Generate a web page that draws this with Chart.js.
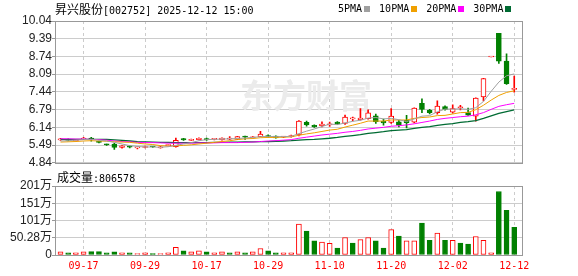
<!DOCTYPE html>
<html>
<head>
<meta charset="utf-8">
<script src="https://cdn.jsdelivr.net/npm/chart.js@4.4.1/dist/chart.umd.min.js"></script>
<style>
  body { margin: 0; background: #fff; width: 578px; height: 276px; overflow: hidden; position: relative; }
  canvas { position: absolute; left: 0; }
  #price { top: 0; }
  #vol { top: 170px; }
  .txt { position: absolute; font-family: "DejaVu Sans Mono", monospace; font-size: 10px; line-height: 14px; color: #000; white-space: nowrap; }
  .cjk { font-family: "Noto Sans CJK SC", sans-serif; font-size: 12px; }
  .leg i { display: inline-block; width: 6px; height: 6px; margin: 0 9px 1px 2px; vertical-align: middle; }
</style>
</head>
<body>
<canvas id="price" width="578" height="170"></canvas>
<canvas id="vol" width="578" height="106"></canvas>
<div class="txt" style="left:55px;top:2px"><span class="cjk">昇兴股份</span>[002752] 2025-12-12 15:00</div>
<div class="txt leg" style="left:338px;top:2px">5PMA<i style="background:#a0a0a0"></i>10PMA<i style="background:#f0a000"></i>20PMA<i style="background:#ff00ff"></i>30PMA<i style="background:#006b33"></i></div>
<div class="txt" style="left:57px;top:170px"><span class="cjk">成交量</span>:806578</div>
<script>
// trading days shown
const dates = ['09-12','09-15','09-16','09-17','09-18','09-19','09-22','09-23','09-24','09-25',
  '09-26','09-29','09-30','10-09','10-10','10-13','10-14','10-15','10-16','10-17',
  '10-20','10-21','10-22','10-23','10-24','10-27','10-28','10-29','10-30','10-31',
  '11-03','11-04','11-05','11-06','11-07','11-10','11-11','11-12','11-13','11-14',
  '11-17','11-18','11-19','11-20','11-21','11-24','11-25','11-26','11-27','11-28',
  '12-01','12-02','12-03','12-04','12-05','12-08','12-09','12-10','12-11','12-12'];
const tickDates = ['09-17','09-29','10-17','10-29','11-10','11-20','12-02','12-12'];

const openP = [5.68,5.70,5.65,5.71,5.75,5.63,5.52,5.53,5.40,5.45,
  5.39,5.40,5.43,5.39,5.47,5.43,5.73,5.66,5.69,5.73,
  5.70,5.68,5.71,5.70,5.80,5.75,5.80,5.83,5.82,5.78,
  5.80,5.86,6.32,6.21,6.20,6.23,6.33,6.28,6.45,6.42,
  6.46,6.56,6.36,6.32,6.34,6.40,6.33,7.02,6.76,6.68,
  6.90,6.70,6.86,6.68,6.55,7.26,8.72,9.59,8.57,7.53];
const highP = [5.74,5.72,5.70,5.77,5.77,5.64,5.53,5.55,5.47,5.46,
  5.43,5.45,5.44,5.44,5.50,5.75,5.74,5.71,5.76,5.75,
  5.73,5.76,5.80,5.81,5.82,5.80,5.99,5.87,5.83,5.80,
  5.86,6.39,6.37,6.23,6.34,6.33,6.35,6.59,6.52,6.83,
  6.78,6.63,6.44,6.83,6.40,6.58,6.86,7.19,6.80,7.11,
  6.93,6.97,6.95,6.85,7.22,7.94,8.72,9.59,8.84,8.02];
const lowP = [5.66,5.64,5.63,5.69,5.63,5.57,5.48,5.33,5.38,5.39,
  5.35,5.39,5.40,5.38,5.46,5.41,5.66,5.65,5.68,5.66,
  5.68,5.67,5.69,5.69,5.70,5.74,5.79,5.78,5.74,5.76,
  5.78,5.83,6.18,6.14,6.16,6.17,6.25,6.25,6.38,6.40,
  6.44,6.28,6.22,6.28,6.16,6.12,6.30,6.68,6.63,6.62,
  6.77,6.66,6.78,6.58,6.37,7.11,8.72,8.48,7.71,7.43];
const closeP = [5.72,5.66,5.67,5.74,5.70,5.59,5.50,5.40,5.46,5.41,
  5.42,5.41,5.42,5.40,5.49,5.66,5.68,5.69,5.74,5.68,
  5.71,5.75,5.72,5.80,5.78,5.79,5.89,5.80,5.75,5.79,
  5.84,6.37,6.23,6.16,6.26,6.27,6.27,6.52,6.46,6.48,
  6.67,6.35,6.30,6.55,6.22,6.31,6.85,6.80,6.68,6.92,
  6.80,6.83,6.87,6.59,7.21,7.93,8.72,8.57,7.74,7.55];

const ma5 = [5.64,5.65,5.67,5.69,5.70,5.67,5.64,5.59,5.53,5.47,
  5.44,5.42,5.42,5.41,5.43,5.48,5.53,5.58,5.65,5.69,
  5.70,5.71,5.72,5.73,5.75,5.77,5.80,5.81,5.80,5.80,
  5.81,5.91,6.00,6.08,6.17,6.26,6.24,6.30,6.36,6.40,
  6.48,6.50,6.45,6.47,6.42,6.35,6.45,6.55,6.57,6.71,
  6.81,6.81,6.82,6.80,6.86,7.09,7.46,7.80,8.03,8.10];
const ma10 = [5.60,5.61,5.62,5.64,5.65,5.64,5.63,5.61,5.60,5.59,
  5.56,5.53,5.51,5.47,5.45,5.46,5.48,5.50,5.53,5.56,
  5.59,5.62,5.65,5.69,5.72,5.73,5.76,5.77,5.77,5.78,
  5.79,5.85,5.90,5.94,5.99,6.04,6.07,6.15,6.22,6.29,
  6.37,6.37,6.37,6.41,6.41,6.41,6.47,6.50,6.52,6.57,
  6.58,6.63,6.68,6.69,6.79,6.95,7.14,7.31,7.42,7.48];
const ma20 = [5.72,5.72,5.71,5.71,5.70,5.69,5.67,5.64,5.62,5.61,
  5.59,5.58,5.58,5.57,5.56,5.56,5.56,5.56,5.57,5.57,
  5.57,5.58,5.58,5.58,5.59,5.60,5.62,5.64,5.65,5.67,
  5.69,5.74,5.78,5.82,5.86,5.89,5.92,5.96,5.99,6.03,
  6.08,6.11,6.14,6.18,6.20,6.23,6.27,6.32,6.37,6.43,
  6.47,6.50,6.53,6.55,6.60,6.68,6.80,6.91,6.97,7.02];
const ma30 = [5.70,5.70,5.70,5.70,5.70,5.70,5.70,5.68,5.66,5.64,
  5.62,5.61,5.60,5.59,5.59,5.58,5.58,5.58,5.58,5.58,
  5.59,5.59,5.60,5.60,5.61,5.61,5.62,5.62,5.63,5.64,
  5.65,5.67,5.69,5.70,5.72,5.74,5.77,5.81,5.84,5.87,
  5.92,5.95,5.98,6.02,6.04,6.06,6.10,6.14,6.17,6.21,
  6.25,6.28,6.32,6.35,6.39,6.47,6.56,6.65,6.72,6.78];

// volume in 万 (10k lots), 1 = red (up) bar
const volume = [9,6,6,9,10,10,6,9,6,6,
  4,6,4,4,6,22,12,9,12,9,
  6,9,6,9,6,9,19,12,6,6,
  6,90,70,41,38,34,20,51,35,45,
  51,41,20,74,55,41,41,93,43,64,
  43,43,35,32,54,43,6,185,130,80.66];
const volUp = [1,0,1,1,0,0,0,0,1,0,
  1,1,0,1,1,1,0,1,1,0,
  1,1,0,1,0,1,1,0,0,1,
  1,1,0,0,1,1,0,1,0,1,
  1,0,0,1,0,1,1,0,0,1,
  0,1,0,0,1,1,1,0,0,0];

const priceTicks = [4.84,5.49,6.14,6.79,7.44,8.09,8.74,9.39,10.04];
const volTicks = [0,50.28,100.56,150.84,201.12];
const volTickLabels = ['0','50.28万','101万','151万','201万'];

const RED = '#ff0000', GREEN = '#008000';
const idx = dates.map((d, i) => i);
const tickIdx = tickDates.map(d => dates.indexOf(d));
const candleUp = idx.map(i => closeP[i] >= openP[i]);
const labelFont = { family: '"Liberation Sans", "Noto Sans CJK SC", sans-serif', size: 12 };

// grey frame round the plot area
const frame = {
  id: 'frame',
  afterDraw(chart) {
    const { ctx, chartArea: a } = chart;
    ctx.save();
    ctx.strokeStyle = '#999';
    ctx.lineWidth = 1;
    ctx.strokeRect(Math.round(a.left) + 0.5, Math.round(a.top) + 0.5,
      Math.round(a.right - a.left), Math.round(a.bottom - a.top));
    ctx.restore();
  }
};

const watermark = {
  id: 'watermark',
  beforeDatasetsDraw(chart) {
    const ctx = chart.ctx;
    ctx.save();
    ctx.fillStyle = '#ebebeb';
    ctx.font = 'bold 33px "Noto Sans CJK SC"';
    ctx.textBaseline = 'middle';
    ctx.fillText('东方财富', 240, 95);
    ctx.restore();
  }
};

const xScale = (showLabels) => ({
  type: 'linear',
  min: -0.715,
  max: 60.01,
  offset: false,
  afterBuildTicks: s => { s.ticks = tickIdx.map(v => ({ value: v })); },
  ticks: {
    display: showLabels,
    autoSkip: false,
    maxRotation: 0,
    padding: 5,
    color: RED,
    font: { family: '"DejaVu Sans Mono", monospace', size: 10 },
    callback: v => dates[v]
  },
  grid: { color: '#ccc', drawTicks: false, offset: false },
  border: { display: false, dash: [3, 3] },
  afterFit: s => { s.height = showLabels ? 21 : 0; }
});

const yScale = (min, max, ticks, label) => ({
  min, max,
  afterBuildTicks: s => { s.ticks = ticks.map(v => ({ value: v })); },
  ticks: { color: '#222', font: labelFont, padding: 0, autoSkip: false, callback: label },
  grid: { color: '#ccc', tickLength: 3, tickColor: '#999' },
  border: { display: false },
  afterFit: s => { s.width = 55; }
});

function lineSet(label, values, color, width) {
  return {
    type: 'line', label,
    data: idx.map(i => ({ x: i, y: values[i] })),
    borderColor: color, borderWidth: width,
    pointRadius: 0, tension: 0, order: 0
  };
}

new Chart(document.getElementById('price'), {
  type: 'bar',
  data: {
    datasets: [
      lineSet('5PMA', ma5, '#a0a0a0', 1),
      lineSet('10PMA', ma10, '#f0a000', 1),
      lineSet('20PMA', ma20, '#ff00ff', 1),
      lineSet('30PMA', ma30, '#006b33', 1.3),
      {
        label: 'body',
        data: idx.map(i => ({ x: i, y: [openP[i], closeP[i]] })),
        backgroundColor: idx.map(i => candleUp[i] ? '#fff' : GREEN),
        borderColor: idx.map(i => candleUp[i] ? RED : GREEN),
        borderWidth: 1, borderSkipped: false,
        barThickness: 5, minBarLength: 1, grouped: false, order: 1
      },
      {
        label: 'wick',
        data: idx.map(i => ({ x: i, y: [lowP[i], highP[i]] })),
        backgroundColor: idx.map(i => candleUp[i] ? RED : GREEN),
        barThickness: 1, grouped: false, order: 2
      }
    ]
  },
  options: {
    responsive: false,
    animation: false,
    layout: { padding: { top: 21, right: 56, bottom: 4, left: 0 } },
    plugins: { legend: { display: false }, tooltip: { enabled: false } },
    scales: {
      x: xScale(false),
      y: yScale(4.84, 10.04, priceTicks, v => v.toFixed(2))
    }
  },
  plugins: [watermark, frame]
});

new Chart(document.getElementById('vol'), {
  type: 'bar',
  data: {
    datasets: [{
      label: 'volume',
      data: idx.map(i => ({ x: i, y: volume[i] })),
      backgroundColor: idx.map(i => volUp[i] ? '#fff' : GREEN),
      borderColor: idx.map(i => volUp[i] ? RED : GREEN),
      borderWidth: 1, borderSkipped: false,
      barThickness: 5, grouped: false
    }]
  },
  options: {
    responsive: false,
    animation: false,
    layout: { padding: { top: 16, right: 56, bottom: 0, left: 0 } },
    plugins: { legend: { display: false }, tooltip: { enabled: false } },
    scales: {
      x: xScale(true),
      y: yScale(0, 201.12, volTicks, (v, i) => volTickLabels[i])
    }
  },
  plugins: [frame]
});
</script>
</body>
</html>
